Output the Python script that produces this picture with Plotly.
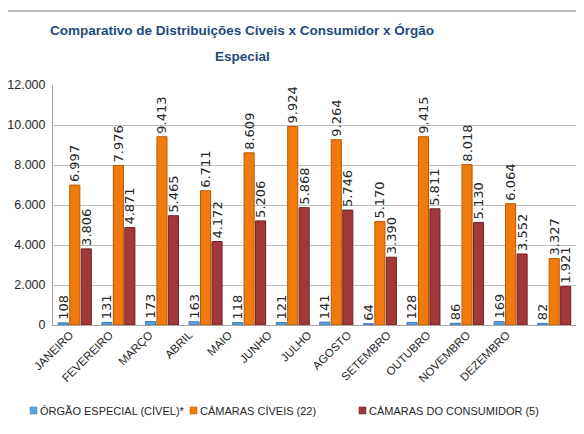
import plotly.graph_objects as go

months = ["JANEIRO", "FEVEREIRO", "MARÇO", "ABRIL", "MAIO", "JUNHO", "JULHO",
          "AGOSTO", "SETEMBRO", "OUTUBRO", "NOVEMBRO", "DEZEMBRO"]
orgao_especial = [108, 131, 173, 163, 118, 121, 141, 64, 128, 86, 169, 82]
camaras_civeis = [6997, 7976, 9413, 6711, 8609, 9924, 9264, 5170, 9415, 8018, 6064, 3327]
camaras_consumidor = [3806, 4871, 5465, 4172, 5206, 5868, 5746, 3390, 5811, 5130, 3552, 1921]
title_lines = ["Comparativo de Distribuições Cíveis x Consumidor x Órgão", "Especial"]

series = [
    ("ÓRGÃO ESPECIAL (CÍVEL)*", orgao_especial, "#5FA3E0", "#3A78B5"),
    ("CÂMARAS CÍVEIS (22)", camaras_civeis, "#F07B0C", "#B85A05"),
    ("CÂMARAS DO CONSUMIDOR (5)", camaras_consumidor, "#A3383A", "#6E2325"),
]

SANS = "Liberation Sans, Arial, sans-serif"
OFF = 8  # page body margin
W, H = 584 - 2 * OFF, 434 - 2 * OFF
ML, MR, MT = 53 - OFF, 0, 85 - OFF
PLOT_BOTTOM = 325 - OFF
MB = H - PLOT_BOTTOM
PW, PH = W - ML - MR, H - MT - MB


def px_x(x):  # window pixel -> paper x
    return (x - OFF - ML) / PW


def px_y(y):  # window pixel -> paper y
    return (H - MB - (y - OFF)) / PH


fig = go.Figure()
for name, vals, color, line in series:
    fig.add_trace(go.Bar(
        name=name, x=months, y=vals,
        marker=dict(color=color, line=dict(color=line, width=1)),
        text=vals, texttemplate="%{y:,}", textposition="outside",
        textangle=-90, constraintext="none", cliponaxis=False,
        textfont=dict(family="DejaVu Sans, Verdana, sans-serif", size=13, color="#262626"),
        showlegend=False,
    ))

# invisible carrier for the month labels (labels in the source sit on a tighter spacing)
fig.add_trace(go.Scatter(x=months, y=[0] * len(months), xaxis="x2", yaxis="y2",
                         mode="markers", marker=dict(opacity=0, size=1),
                         hoverinfo="skip", showlegend=False))

LABEL_STEP = 39.7
LABEL_FIRST = 70.0
LABEL_END = 526.6
r0 = -(LABEL_FIRST - 53) / LABEL_STEP
r1 = r0 + (LABEL_END - 53) / LABEL_STEP

fig.update_layout(
    width=W, height=H,
    margin=dict(l=ML, r=MR, t=MT, b=MB, autoexpand=False),
    paper_bgcolor="white", plot_bgcolor="rgba(0,0,0,0)",
    separators=",.",
    barmode="group", bargap=0.21, bargroupgap=0.12,
    showlegend=False,
    font=dict(family=SANS, color="#262626"),
    xaxis=dict(showline=True, linecolor="#A6A6A6", linewidth=1, ticks="",
               showticklabels=False, automargin=False, domain=[0, 1]),
    xaxis2=dict(type="category", categoryarray=months, categoryorder="array",
                range=[r0, r1], anchor="y2",
                domain=[0, px_x(LABEL_END)],
                showline=False, showgrid=False, zeroline=False, ticks="",
                tickangle=-45, automargin=False,
                tickfont=dict(family=SANS, size=11.5, color="#262626")),
    yaxis=dict(
        range=[0, 12000], dtick=2000, tickformat=",",
        showgrid=True, gridcolor="#BDBDBD", gridwidth=1,
        showline=True, linecolor="#A6A6A6", linewidth=1,
        zeroline=False, ticks="", ticklabelstandoff=4, automargin=False,
        tickfont=dict(family=SANS, size=12.5, color="#262626"),
    ),
    yaxis2=dict(range=[0, 1], domain=[0, 1], anchor="x2", visible=False,
                showgrid=False, zeroline=False, fixedrange=True),
)

# title (two lines)
for txt, ypix in zip(title_lines, [31, 56]):
    fig.add_annotation(text=txt, xref="paper", yref="paper",
                       x=px_x(242), y=px_y(ypix), xanchor="center", yanchor="middle",
                       showarrow=False,
                       font=dict(family=SANS, size=13.5, color="#1F497D", weight="bold"))

# thin gray line at the top of the picture
fig.add_shape(type="line", xref="paper", yref="paper",
              x0=px_x(0), x1=px_x(600), y0=px_y(11), y1=px_y(11),
              line=dict(color="#BEBEBE", width=2))

# legend
legend_x = [30, 190, 359]
for (name, _, color, line), lx in zip(series, legend_x):
    fig.add_shape(type="rect", xref="paper", yref="paper",
                  x0=px_x(lx), x1=px_x(lx + 7), y0=px_y(414), y1=px_y(407),
                  fillcolor=color, line=dict(color=line, width=0.5))
    fig.add_annotation(text=name, xref="paper", yref="paper",
                       x=px_x(lx + 8), y=px_y(410.5), xanchor="left", yanchor="middle",
                       showarrow=False,
                       font=dict(family=SANS, size=11, color="#262626"))

fig.write_html("out.html")
